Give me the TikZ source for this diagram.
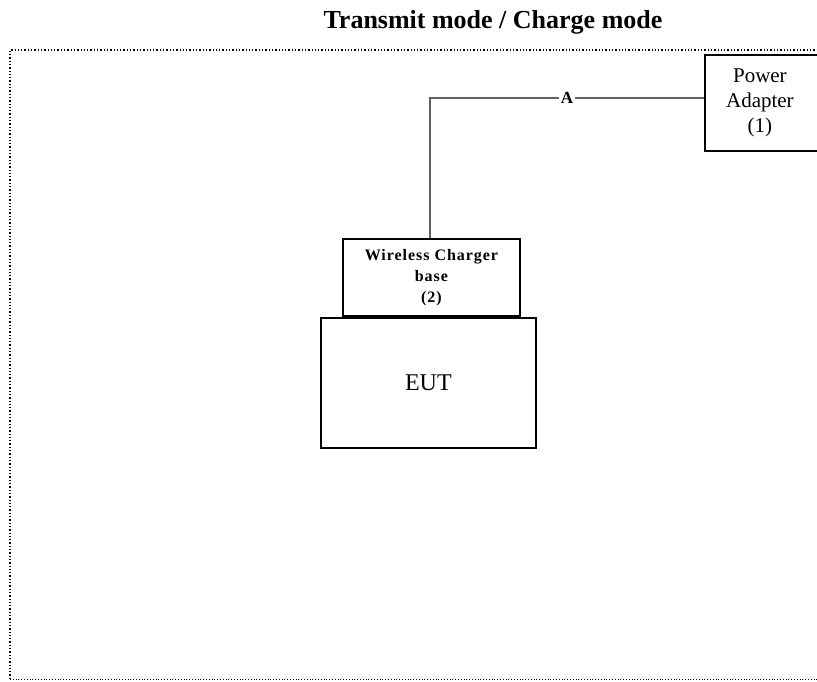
\documentclass[tikz,border=0pt]{standalone}
\usepackage{fontspec}
\setmainfont{Liberation Serif}
\begin{document}
\begin{tikzpicture}[x=1pt,y=-1pt,
  box/.style={draw=black,line width=1.8pt,inner sep=0pt,align=center,anchor=north west},
  wire/.style={draw=black!62,line width=2pt}]
\useasboundingbox (0,0) rectangle (817,682);
\clip (0,0) rectangle (817,682);
\node[font=\bfseries\fontsize{26}{28}\selectfont] (title) at (493,22) {Transmit mode / Charge mode};
\draw[dotted,line width=1.3pt] (10,679) |- (830,50);
\draw[dotted,line width=0.8pt] (10,679) -- (830,679);
\node[box,minimum width=118pt,minimum height=96pt,font=\fontsize{21}{25}\selectfont] (pa) at (704,54) {\hspace*{-8pt}Power\\\hspace*{-8pt}Adapter\\\hspace*{-8pt}(1)};
\node[box,minimum width=177pt,minimum height=77pt,font=\bfseries\fontsize{16}{21}\selectfont\addfontfeatures{LetterSpace=6}] (wc) at (342,238) {Wireless Charger\\base\\(2)};
\node[box,minimum width=215pt,minimum height=130pt,font=\fontsize{24}{26}\selectfont] (eut) at (320,317) {EUT};
\coordinate (c) at (430,98);
\draw[wire] (wc.north -| c) -- (c) -- node[fill=white,inner sep=2pt,font=\bfseries\fontsize{17}{19}\selectfont]{A} (c -| pa.west);
\end{tikzpicture}
\end{document}
